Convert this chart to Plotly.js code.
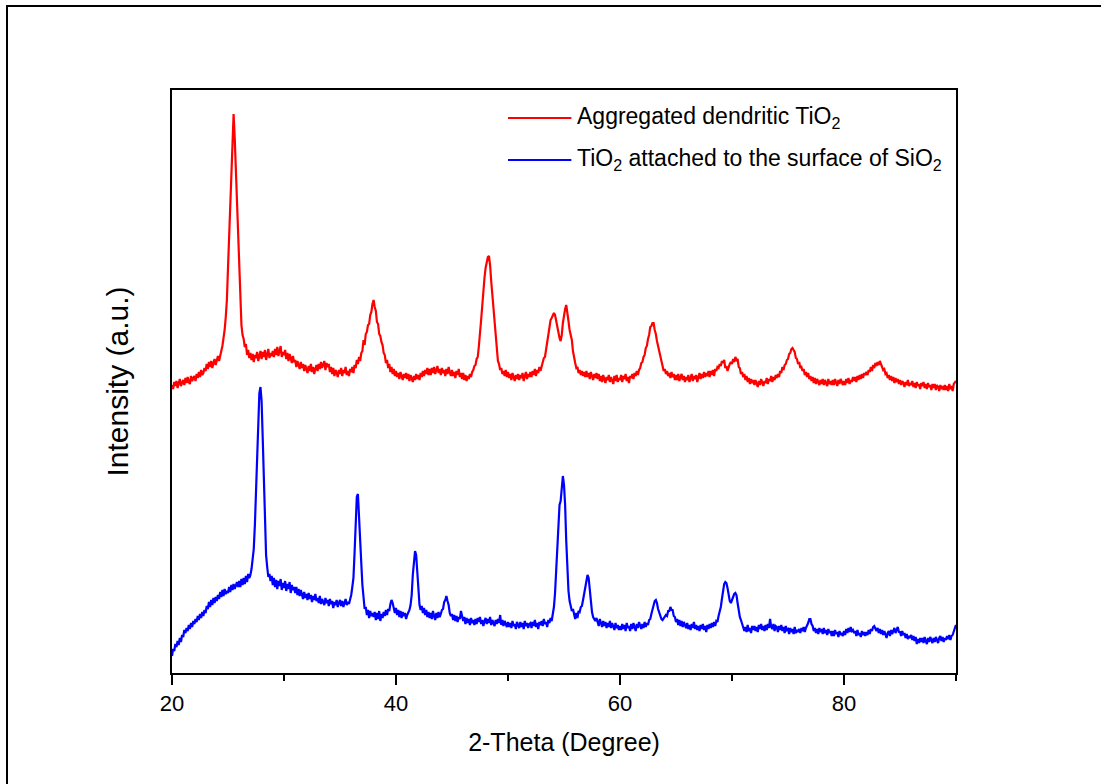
<!DOCTYPE html>
<html>
<head>
<meta charset="utf-8">
<script src="https://cdn.plot.ly/plotly-3.0.1.min.js"></script>
<style>
html,body{margin:0;padding:0;background:#fff;}
#wrap{position:relative;width:1101px;height:784px;overflow:hidden;}
#chart{width:1101px;height:784px;}
#frame{position:absolute;left:6px;top:5px;width:1200px;height:900px;border-left:2px solid #000;border-top:2px solid #000;pointer-events:none;}
</style>
</head>
<body>
<div id="wrap"><div id="chart"></div><div id="frame"></div></div>
<script>
// 2-Theta scan grid (degrees)
const twoThetaStart = 20.0;
const twoThetaStep = 0.1;

// Series names
const seriesNames = [
  "Aggregated dendritic TiO<sub>2</sub>",
  "TiO<sub>2</sub> attached to the surface of SiO<sub>2</sub>"
];

// Intensity (a.u.) of aggregated dendritic TiO2, one row per degree (20.0 ... 90.0)
const redIntensity = [
  288,284,291,287,292,285,290,294,287,291,
  293,288,295,290,296,291,289,297,292,295,
  297,292,299,295,301,296,303,298,300,305,
  302,309,304,311,306,312,305,310,314,308,
  313,317,312,319,322,327,333,343,356,373,
  405,440,473,510,545,559,535,502,476,438,
  395,362,348,338,334,326,329,318,323,315,
  320,313,319,311,318,315,321,312,318,322,
  314,321,316,323,313,319,324,315,320,317,
  322,316,324,318,326,317,322,327,316,321,
  318,323,314,320,312,319,315,310,317,311,
  313,306,312,308,304,311,305,309,302,308,
  305,300,307,302,309,301,306,299,304,308,
  302,309,304,311,305,308,312,303,310,306,
  309,301,306,299,305,297,303,300,296,303,
  299,305,297,303,300,306,298,302,297,304,
  301,306,300,308,305,313,309,316,312,320,
  322,333,328,339,341,348,349,358,361,369,
  373,366,362,351,349,339,337,331,328,320,
  318,310,313,305,309,301,306,299,304,297,
  302,296,300,294,301,297,293,299,295,300,
  294,299,292,298,295,291,297,293,299,294,
  298,293,300,296,302,297,303,299,305,298,
  304,298,305,300,306,299,303,307,300,304,
  298,305,300,303,297,304,299,306,301,297,
  303,297,301,295,302,298,304,296,300,294,
  300,293,298,292,297,294,299,296,301,303,
  307,308,314,316,327,337,353,367,385,395,
  405,412,416,417,408,392,378,366,350,335,
  323,312,309,303,305,299,302,297,303,296,
  301,295,299,293,300,296,292,298,294,299,
  293,298,295,300,292,297,301,294,299,296,
  301,296,302,298,304,297,303,300,306,302,
  307,309,315,316,324,328,338,345,353,355,
  358,360,358,352,345,340,335,332,338,350,
  358,364,368,362,352,343,338,333,322,314,
  310,305,306,300,303,298,302,297,301,296,
  302,296,300,294,301,297,293,299,295,300,
  294,299,292,297,291,298,294,290,296,293,
  298,291,296,293,289,297,292,298,291,295,
  293,298,291,297,294,299,292,296,290,297,
  295,299,294,300,297,302,298,303,305,310,
  311,316,318,325,327,334,338,346,347,350,
  350,343,339,332,327,320,317,310,308,302,
  304,299,302,297,300,295,301,296,299,293,
  298,293,299,292,296,299,293,297,291,296,
  293,298,291,296,299,292,297,294,298,291,
  297,300,294,299,295,301,296,300,297,302,
  296,302,298,303,297,304,302,306,305,309,
  307,312,310,313,305,307,302,306,309,311,
  309,314,311,316,313,314,306,305,299,301,
  296,299,293,297,291,295,289,294,290,293,
  288,293,290,286,292,288,294,289,287,292,
  290,295,289,294,292,297,291,296,293,298,
  295,299,296,302,300,306,303,308,309,313,
  314,319,320,324,325,323,321,315,314,309,
  311,305,306,302,304,298,301,296,300,294,
  297,292,296,290,295,289,294,291,288,293,
  289,294,288,293,290,287,294,289,292,288,
  293,288,294,290,287,293,289,294,290,288,
  292,288,294,290,295,289,293,291,296,292,
  296,291,297,293,298,294,299,295,300,298,
  301,298,303,301,306,302,308,305,310,307,
  311,308,312,309,308,303,304,299,300,295,
  298,293,297,292,296,290,295,291,294,289,
  293,288,292,290,286,291,288,293,287,290,
  288,292,286,290,285,291,287,289,284,290,
  287,291,285,289,284,290,286,288,283,289,
  285,289,283,288,286,282,288,284,287,283,
  288,283,287,282,289,284,287,282,289,291,
  292
];

// Intensity (a.u.) of TiO2 attached to the surface of SiO2, one row per degree (20.0 ... 90.0)
const blueIntensity = [
  17,24,22,29,26,32,28,35,31,38,
  36,43,40,45,42,48,44,50,46,52,
  49,54,51,57,53,59,55,61,57,63,
  60,67,64,71,66,73,68,75,70,76,
  72,78,74,81,76,83,77,84,79,82,
  80,86,81,88,83,89,84,87,91,86,
  92,86,94,88,95,89,97,91,99,95,
  98,104,112,124,148,185,225,258,280,286,
  272,235,193,150,118,106,96,99,92,97,
  88,95,86,93,84,92,87,94,83,90,
  85,92,82,89,84,91,80,88,83,86,
  80,86,78,84,77,83,79,74,81,75,
  79,73,80,74,78,71,77,73,79,72,
  75,70,77,69,74,71,68,75,70,73,
  67,74,69,72,65,71,68,73,66,70,
  73,67,72,66,70,74,68,71,69,73,
  78,86,95,120,152,176,179,160,135,110,
  88,74,64,66,58,63,55,62,57,60,
  56,61,53,60,54,62,52,59,55,61,
  57,63,58,64,62,69,73,70,64,60,
  65,58,63,56,62,55,61,57,60,54,
  58,60,63,68,78,98,116,122,118,100,
  80,68,63,67,60,65,58,63,56,61,
  55,60,54,62,57,53,60,55,61,56,
  59,63,64,71,73,77,72,68,60,57,
  59,53,58,52,57,51,56,54,62,55,
  52,56,49,55,50,54,48,55,50,53,
  48,54,49,55,51,56,49,53,47,52,
  55,49,54,50,56,48,53,50,47,53,
  49,54,50,58,48,53,47,52,49,46,
  51,46,50,45,52,47,49,44,51,47,
  45,51,46,50,44,52,47,50,45,49,
  50,45,51,47,53,46,50,44,51,48,
  52,47,54,49,51,46,53,50,55,52,
  58,66,80,102,128,152,168,172,184,197,
  188,168,132,100,82,72,68,62,64,58,
  54,60,55,62,61,66,67,73,79,89,
  94,98,95,84,70,61,56,54,52,55,
  52,47,54,49,46,52,47,51,45,50,
  46,52,45,50,46,43,50,45,48,43,
  47,43,49,44,48,42,50,45,47,42,
  49,44,50,45,42,49,45,51,46,44,
  49,45,51,46,50,48,53,54,59,63,
  69,72,73,70,64,60,56,54,53,55,
  56,58,57,62,62,66,63,63,57,56,
  51,54,48,53,47,52,46,51,48,45,
  50,44,48,43,49,45,51,44,48,43,
  47,42,48,44,49,43,47,41,48,44,
  49,45,50,46,51,47,52,51,57,61,
  66,74,83,89,91,90,85,78,72,70,
  73,77,79,80,78,70,62,56,53,50,
  47,42,46,41,48,42,45,40,47,43,
  47,42,46,41,48,44,49,43,47,42,
  48,43,49,45,54,46,44,49,42,47,
  46,41,47,43,48,42,46,40,47,43,
  44,39,45,41,44,39,46,40,43,41,
  44,40,45,42,46,41,45,47,50,54,
  54,49,47,42,45,40,44,39,45,41,
  44,39,45,40,43,38,44,40,42,37,
  42,37,43,39,41,36,42,38,40,37,
  42,38,44,40,45,41,46,42,43,40,
  42,37,43,38,40,36,42,38,41,37,
  41,38,43,39,44,42,46,47,44,42,
  45,40,44,39,43,38,42,37,35,40,
  42,37,43,39,43,45,40,44,46,41,
  41,37,42,38,40,35,39,34,37,35,
  38,33,37,32,36,29,34,30,35,31,
  35,30,36,32,29,35,31,36,32,30,
  35,31,36,32,30,35,37,32,36,31,
  35,33,37,34,38,33,37,38,43,45,
  48
];

// Axis tick labels
const xTickVals = [20, 40, 60, 80];
const xTickText = ["20", "40", "60", "80"];

const twoTheta = redIntensity.map((_, i) => +(twoThetaStart + i * twoThetaStep).toFixed(1));

const FONT = "Arial, 'Liberation Sans', sans-serif";

const traces = [
  {x: twoTheta, y: redIntensity, type: "scatter", mode: "lines", name: seriesNames[0],
   line: {color: "#ff0000", width: 2.2}, showlegend: false},
  {x: twoTheta, y: blueIntensity, type: "scatter", mode: "lines", name: seriesNames[1],
   line: {color: "#0000ff", width: 2.2}, showlegend: false}
];

const legendY = [0.952, 0.880];
const legendColors = ["#ff0000", "#0000ff"];

const layout = {
  width: 1101, height: 784,
  margin: {l: 172, r: 145, t: 90, b: 111, pad: 0},
  paper_bgcolor: "#fff", plot_bgcolor: "#fff",
  font: {family: FONT, color: "#000"},
  showlegend: false,
  xaxis: {
    range: [20, 90], tickvals: xTickVals, ticktext: xTickText,
    ticks: "outside", ticklen: 10, tickwidth: 2, tickcolor: "#000",
    minor: {dtick: 10, tick0: 30, ticks: "outside", ticklen: 6, tickwidth: 2, tickcolor: "#000", showgrid: false},
    showline: true, linewidth: 2, linecolor: "#000", mirror: true,
    showgrid: false, zeroline: false,
    tickfont: {size: 22, family: FONT, color: "#000"},
    title: {text: "2-Theta (Degree)", font: {size: 25, family: FONT, color: "#000"}, standoff: 18}
  },
  yaxis: {
    range: [0, 583],
    showticklabels: false, ticks: "",
    showline: true, linewidth: 2, linecolor: "#000", mirror: true,
    showgrid: false, zeroline: false,
    title: {text: "Intensity (a.u.)", font: {size: 30, family: FONT, color: "#000"}, standoff: 33}
  },
  shapes: legendY.map((yy, i) => ({
    type: "line", xref: "paper", yref: "paper",
    x0: 0.4286, x1: 0.5094, y0: yy, y1: yy,
    line: {color: legendColors[i], width: 2}
  })),
  annotations: legendY.map((yy, i) => ({
    xref: "paper", yref: "paper", x: 0.5145, y: yy,
    xanchor: "left", yanchor: "middle", showarrow: false,
    text: seriesNames[i], font: {size: 23, family: FONT, color: "#000"}
  }))
};

Plotly.newPlot("chart", traces, layout, {displayModeBar: false, staticPlot: true});
</script>
</body>
</html>
